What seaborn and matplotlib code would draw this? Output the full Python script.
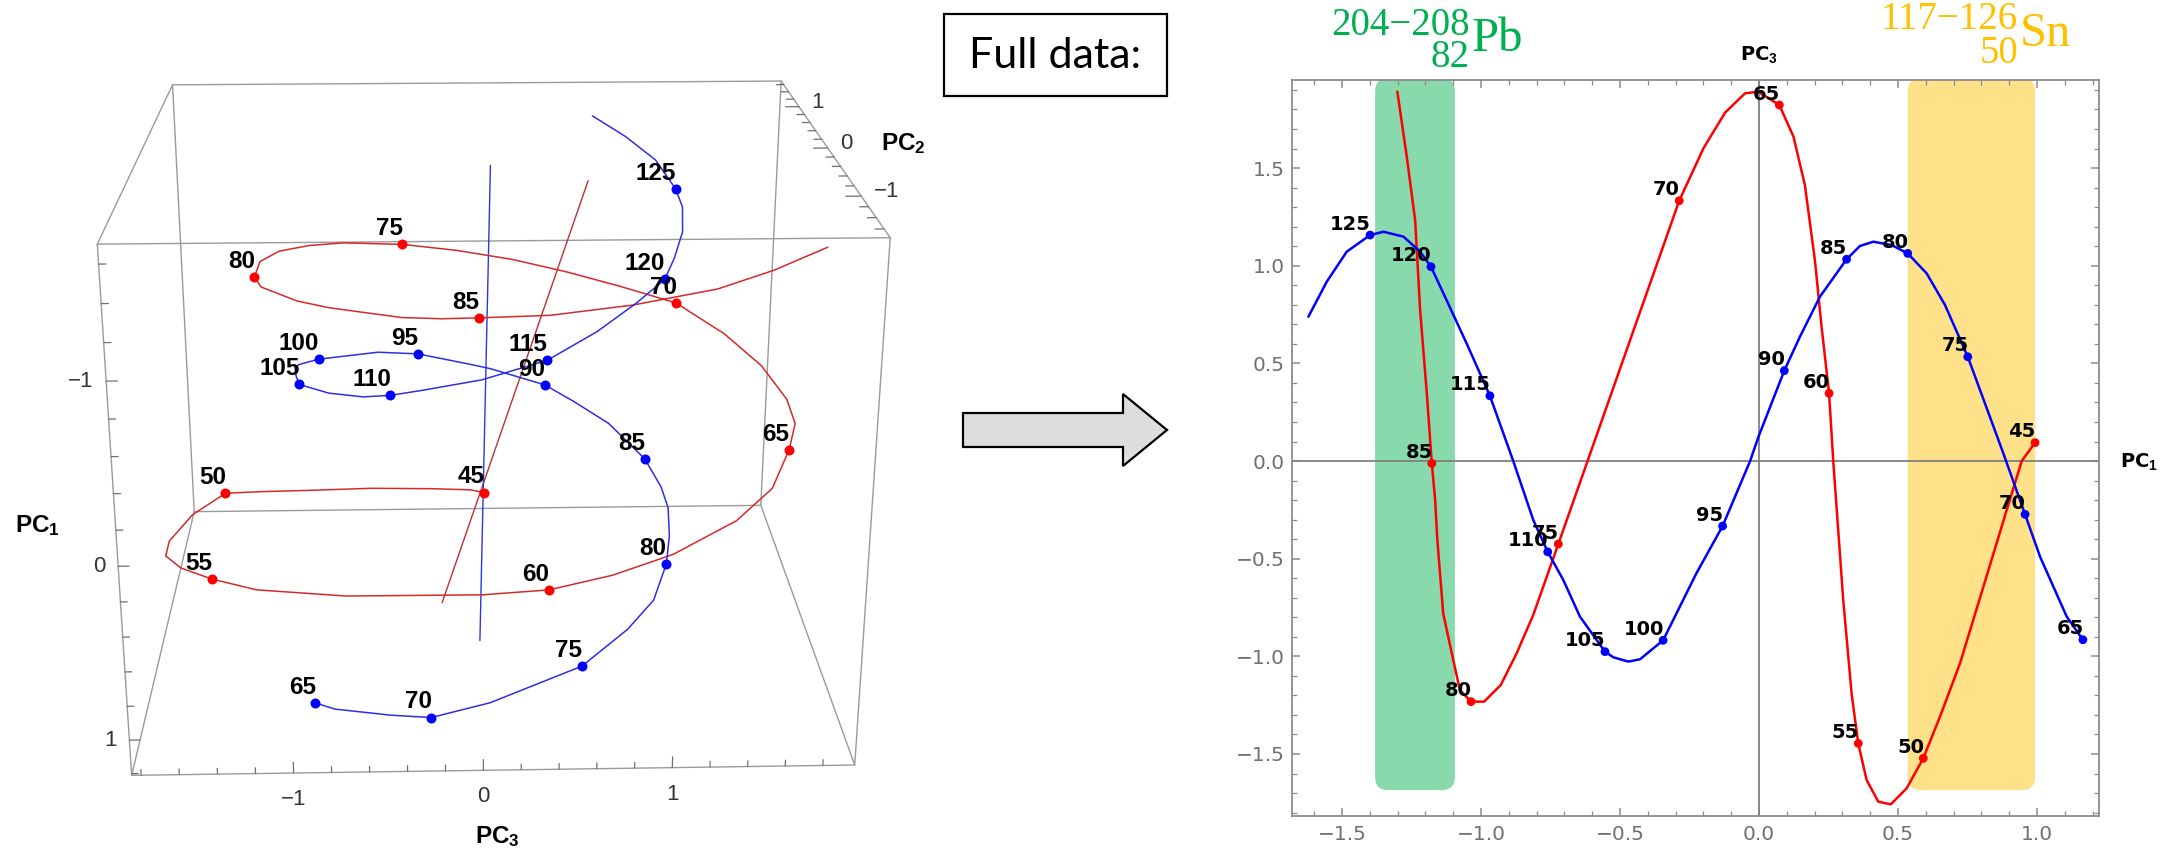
import numpy as np
import pandas as pd
import matplotlib
matplotlib.use("Agg")
import matplotlib.pyplot as plt
import matplotlib.patches as mpatches
import matplotlib.ticker as mticker
from matplotlib.transforms import offset_copy
from mpl_toolkits.mplot3d import proj3d
import seaborn as sns

# ======================= DATA =======================
# Red series (curve vertices), PC1, PC3, PC2 (depth)
red_pc1 = [0.993, 0.945, 0.891, 0.807, 0.723, 0.651, 0.591, 0.531, 0.474, 0.429,
           0.387, 0.357, 0.333, 0.303, 0.267, 0.252, 0.225, 0.201, 0.165, 0.124,
           0.073, -0.003, -0.050, -0.122, -0.200, -0.287, -0.374, -0.461, -0.548, -0.635,
           -0.722, -0.812, -0.872, -0.929, -0.989, -1.036, -1.076, -1.109, -1.136, -1.157,
           -1.165, -1.177, -1.195, -1.219, -1.237, -1.267, -1.301]
red_pc3 = [0.094, 0.000, -0.251, -0.644, -1.036, -1.309, -1.522, -1.676, -1.758, -1.744,
           -1.633, -1.446, -1.190, -0.712, 0.000, 0.347, 0.688, 1.029, 1.413, 1.661,
           1.823, 1.891, 1.883, 1.784, 1.601, 1.333, 0.981, 0.630, 0.278, -0.074,
           -0.425, -0.788, -0.985, -1.147, -1.232, -1.232, -1.173, -0.959, -0.780, -0.405,
           -0.200, -0.012, 0.347, 0.773, 1.234, 1.558, 1.891]
red_pc2 = [1.465, 1.40, 1.30, 1.12, 0.90, 0.72, 0.56, 0.10, -0.40, -0.70,
           -0.95, -1.158, -1.35, -1.50, -1.58, -1.562, -1.45, -1.25, -0.90, -0.55,
           -0.105, 0.12, 0.40, 0.80, 1.18, 1.544, 1.63, 1.68, 1.68, 1.60,
           1.456, 1.20, 0.95, 0.65, 0.25, -0.191, -0.50, -0.85, -1.05, -1.28,
           -1.33, -1.356, -1.38, -1.30, -1.10, -0.88, -0.585]

# Blue series (curve vertices)
blue_pc1 = [1.165, 1.107, 1.011, 0.957, 0.879, 0.751, 0.669, 0.603, 0.535, 0.477,
            0.411, 0.363, 0.315, 0.219, 0.147, 0.091, -0.002, -0.032, -0.131, -0.226,
            -0.345, -0.428, -0.470, -0.524, -0.554, -0.644, -0.704, -0.760, -0.812, -0.884,
            -0.968, -1.052, -1.124, -1.180, -1.219, -1.279, -1.351, -1.399, -1.483, -1.555,
            -1.621]
blue_pc3 = [-0.915, -0.797, -0.490, -0.273, 0.039, 0.534, 0.799, 0.961, 1.063, 1.106,
            1.123, 1.101, 1.033, 0.841, 0.636, 0.463, 0.124, 0.000, -0.333, -0.577,
            -0.918, -1.015, -1.027, -1.005, -0.976, -0.797, -0.609, -0.465, -0.302, 0.000,
            0.334, 0.603, 0.824, 0.995, 1.072, 1.149, 1.174, 1.157, 1.072, 0.918,
            0.739]
blue_pc2 = [-1.07, -1.25, -1.50, -1.63, -1.62, -1.464, -1.20, -0.98, -0.658, -0.40,
            -0.15, 0.05, 0.374, 0.72, 0.92, 1.07, 1.12, 1.12, 1.05, 0.82,
            0.37, 0.05, -0.12, -0.40, -0.62, -1.00, -1.22, -1.35, -1.42, -1.47,
            -1.42, -1.22, -0.98, -0.753, -0.50, -0.20, 0.05, 0.263, 0.60, 0.88,
            1.13]

# Labelled points
red_labels = [45, 50, 55, 60, 65, 70, 75, 80, 85]
red_lab_pc1 = [0.993, 0.591, 0.357, 0.252, 0.073, -0.287, -0.722, -1.036, -1.177]
red_lab_pc3 = [0.094, -1.522, -1.446, 0.347, 1.823, 1.333, -0.425, -1.232, -0.012]
red_lab_pc2 = [1.465, 0.560, -1.158, -1.562, -0.105, 1.544, 1.456, -0.191, -1.356]

blue_labels = [65, 70, 75, 80, 85, 90, 95, 100, 105, 110, 115, 120, 125]
blue_lab_pc1 = [1.165, 0.957, 0.751, 0.535, 0.315, 0.091, -0.131, -0.345, -0.554,
                -0.760, -0.968, -1.180, -1.399]
blue_lab_pc3 = [-0.915, -0.273, 0.534, 1.063, 1.033, 0.463, -0.333, -0.918, -0.976,
                -0.465, 0.334, 0.995, 1.157]
blue_lab_pc2 = [-1.070, -1.630, -1.464, -0.658, 0.374, 1.070, 1.050, 0.370, -0.620,
                -1.350, -1.420, -0.753, 0.263]

# Helix axis lines in the 3D panel (two end points each)
blue_axis_pc1 = [-1.68, 1.21]
blue_axis_pc3 = [0.08, 0.02]
blue_axis_pc2 = [-0.25, -0.25]
red_axis_pc1 = [-1.50, 1.12]
red_axis_pc3 = [0.64, -0.20]
red_axis_pc2 = [0.08, 0.08]

# Shaded bands in the 2D panel
band_x0 = [-1.381, 0.535]
band_x1 = [-1.094, 0.993]
band_y0 = [-1.685, -1.685]
band_y1 = [1.960, 1.960]
band_colors = ["#88D9AC", "#FFE18A"]

# Axis ranges / ticks
xlim2 = (-1.681, 1.223)
ylim2 = (-1.816, 1.951)
pc3_lim = (-1.85, 1.97)
pc2_lim = (-1.75, 1.70)
pc1_lim = (1.21, -1.70)      # PC1 increases downwards in the 3D panel
major3d = [-1, 0, 1]
major3d_labels = ["\u22121", "0", "1"]

# Title texts
pb_scripts, pb_sym = "204\u2212208\n82", "Pb"
sn_scripts, sn_sym = "117\u2212126\n50", "Sn"
box_text = "Full data:"

GREEN = "#00B050"
GOLD = "#FFC000"
RED = "#FF0000"
BLUE = "#0000FF"

# ======================= STYLE =======================
sns.set_theme(style="white")
plt.rcParams.update({
    "font.family": ["DejaVu Sans"],
    "mathtext.fontset": "custom",
    "mathtext.rm": "Liberation Sans",
    "mathtext.bf": "Liberation Sans:bold",
    "mathtext.it": "Liberation Sans:italic",
    "axes.unicode_minus": True,
})

W, H = 2184, 849
fig = plt.figure(figsize=(W / 100, H / 100), dpi=100)
fig.patch.set_facecolor("white")


def fx(px):
    return px / W


def fy(py_top):
    return 1 - py_top / H


# ======================= LEFT: 3D panel =======================
ZOOM = 1.15
side = 993.5 / ZOOM
cx, cy = 485.6, H - 397.0
left = cx - 0.5135 * side
bottom = cy - 0.5135 * side
ax3 = fig.add_axes([left / W, bottom / H, side / W, side / H], projection="3d")
ax3.patch.set_visible(False)


def lim3d(setter, a, b):
    try:
        setter(a, b, view_margin=0)
    except TypeError:
        setter(a, b)


lim3d(ax3.set_xlim, *pc3_lim)
lim3d(ax3.set_ylim, *pc2_lim)
lim3d(ax3.set_zlim, *pc1_lim)
ax3.set_box_aspect((abs(pc3_lim[1] - pc3_lim[0]), abs(pc2_lim[1] - pc2_lim[0]),
                    abs(pc1_lim[1] - pc1_lim[0])), zoom=ZOOM)
ax3.set_proj_type("persp", focal_length=0.4116 * ZOOM)
ax3.view_init(elev=20.7, azim=-91.6, roll=0)
ax3.set_axis_off()
ax3.computed_zorder = False

edge_kw = dict(color="#9A9A9A", lw=1.0, clip_on=False, zorder=1)
for yv in pc2_lim:
    for zv in pc1_lim:
        ax3.plot(pc3_lim, [yv, yv], [zv, zv], **edge_kw)
for xv in pc3_lim:
    for zv in pc1_lim:
        ax3.plot([xv, xv], pc2_lim, [zv, zv], **edge_kw)
for xv in pc3_lim:
    for yv in pc2_lim:
        ax3.plot([xv, xv], [yv, yv], pc1_lim, **edge_kw)

# tick marks
tick_kw = dict(color="#707070", lw=0.9, clip_on=False, zorder=1)
minor3 = [v for v in np.round(np.arange(-1.8, 1.81, 0.2), 1) if v not in major3d]
minor1 = [v for v in np.round(np.arange(-1.6, 1.21, 0.2), 1) if v not in major3d]
minor2 = [v for v in np.round(np.arange(-1.6, 1.61, 0.2), 1) if v not in major3d]
for vals, L in ((major3d, 0.065), (minor3, 0.035)):
    for t in vals:
        ax3.plot([t, t], [pc2_lim[0]] * 2, [pc1_lim[0], pc1_lim[0] - L], **tick_kw)
for vals, L in ((major3d, 0.055), (minor1, 0.035)):
    for t in vals:
        ax3.plot([pc3_lim[0], pc3_lim[0] + L], [pc2_lim[0]] * 2, [t, t], **tick_kw)
for vals, L in ((major3d, 0.08), (minor2, 0.045)):
    for t in vals:
        ax3.plot([pc3_lim[1], pc3_lim[1] - L], [t, t], [pc1_lim[1]] * 2, **tick_kw)

# curves, axes of helices, points
ax3.plot(red_axis_pc3, red_axis_pc2, red_axis_pc1, color="#B83232", lw=1.0, clip_on=False, zorder=2)
ax3.plot(blue_axis_pc3, blue_axis_pc2, blue_axis_pc1, color="#2A3AD8", lw=1.0, clip_on=False, zorder=2)
ax3.plot(red_pc3, red_pc2, red_pc1, color="#D42A2A", lw=1.1, clip_on=False, zorder=3)
ax3.plot(blue_pc3, blue_pc2, blue_pc1, color="#2F2FE0", lw=1.1, clip_on=False, zorder=3)
ax3.plot(red_lab_pc3, red_lab_pc2, red_lab_pc1, "o", color=RED, ms=7.2, mec="none",
         clip_on=False, zorder=4)
ax3.plot(blue_lab_pc3, blue_lab_pc2, blue_lab_pc1, "o", color=BLUE, ms=7.2, mec="none",
         clip_on=False, zorder=4)

M = ax3.get_proj()


def p2d(x, y, z):
    xs, ys, _ = proj3d.proj_transform(np.asarray(x, float), np.asarray(y, float),
                                      np.asarray(z, float), M)
    return xs, ys


lab_tr = offset_copy(ax3.transData, fig=fig, x=0.3, y=3.0, units="points")
for labs, a, b, c in ((red_labels, red_lab_pc3, red_lab_pc2, red_lab_pc1),
                      (blue_labels, blue_lab_pc3, blue_lab_pc2, blue_lab_pc1)):
    xs, ys = p2d(a, b, c)
    for lab, x2, y2 in zip(labs, xs, ys):
        ax3.text2D(x2, y2, str(lab), transform=lab_tr, ha="right", va="bottom",
                   fontsize=17.5, fontweight="bold", family="Liberation Sans",
                   color="black", zorder=6)

tick_txt = dict(fontsize=16, family="Liberation Sans", color="#333333", zorder=6)
xs, ys = p2d(major3d, [pc2_lim[0]] * 3, [pc1_lim[0]] * 3)
tr = offset_copy(ax3.transData, fig=fig, x=0, y=-19, units="points")
for s, x2, y2 in zip(major3d_labels, xs, ys):
    ax3.text2D(x2, y2, s, transform=tr, ha="center", va="center", **tick_txt)
xs, ys = p2d([pc3_lim[0]] * 3, [pc2_lim[0]] * 3, major3d)
tr = offset_copy(ax3.transData, fig=fig, x=-9, y=0, units="points")
for s, x2, y2 in zip(major3d_labels, xs, ys):
    ax3.text2D(x2, y2, s, transform=tr, ha="right", va="center", **tick_txt)
xs, ys = p2d([pc3_lim[1]] * 3, major3d, [pc1_lim[1]] * 3)
tr = offset_copy(ax3.transData, fig=fig, x=9, y=3, units="points")
for s, x2, y2 in zip(major3d_labels, xs, ys):
    ax3.text2D(x2, y2, s, transform=tr, ha="left", va="center", **tick_txt)

lab3 = dict(fontsize=17.5, fontweight="bold", family="Liberation Sans", color="black")
fig.text(fx(497), fy(837), r"PC$_\mathbf{3}$", ha="center", va="center", **lab3)
fig.text(fx(37.5), fy(526), r"PC$_\mathbf{1}$", ha="center", va="center", **lab3)
fig.text(fx(903), fy(144), r"PC$_\mathbf{2}$", ha="center", va="center", **lab3)

# ======================= MIDDLE: box + arrow =======================
fig.add_artist(mpatches.Rectangle((fx(944), fy(96)), fx(223), 82 / H, transform=fig.transFigure,
                                  fill=False, ec="black", lw=1.6))
fig.text(fx(1055.5), fy(56), box_text, ha="center", va="center", fontsize=31,
         family="Lato", color="black")
fig.add_artist(mpatches.FancyArrow(9.63, (H - 430) / 100, 2.04, 0, width=0.34,
                                   head_width=0.72, head_length=0.44,
                                   length_includes_head=True, fc="#DDDDDD", ec="black",
                                   lw=1.6, transform=fig.dpi_scale_trans))

# ======================= RIGHT: 2D projection =======================
ax2 = fig.add_axes([fx(1291.7), (H - 815.7) / H, (2099 - 1291.7) / W, (815.7 - 80) / H])
ax2.set_xlim(*xlim2)
ax2.set_ylim(*ylim2)

for x0, x1, y0, y1, col in zip(band_x0, band_x1, band_y0, band_y1, band_colors):
    ax2.add_patch(mpatches.FancyBboxPatch((x0, y0), x1 - x0, y1 - y0,
                                          boxstyle="round,pad=0,rounding_size=0.047",
                                          mutation_aspect=1.4234, fc=col, ec="none",
                                          zorder=0))
ax2.axhline(0, color="#808080", lw=1.3, zorder=1)
ax2.axvline(0, color="#808080", lw=1.3, zorder=1)

df_red = pd.DataFrame({"PC1": red_pc1, "PC3": red_pc3})
df_blue = pd.DataFrame({"PC1": blue_pc1, "PC3": blue_pc3})
sns.lineplot(data=df_red, x="PC1", y="PC3", sort=False, estimator=None, color=RED,
             lw=1.8, ax=ax2, zorder=2)
sns.lineplot(data=df_blue, x="PC1", y="PC3", sort=False, estimator=None, color=BLUE,
             lw=1.8, ax=ax2, zorder=2)
sns.scatterplot(x=red_lab_pc1, y=red_lab_pc3, color=RED, s=40, edgecolor="none",
                linewidth=0, ax=ax2, zorder=4)
sns.scatterplot(x=blue_lab_pc1, y=blue_lab_pc3, color=BLUE, s=40, edgecolor="none",
                linewidth=0, ax=ax2, zorder=4)
for labs, xs_, ys_ in ((red_labels, red_lab_pc1, red_lab_pc3),
                       (blue_labels, blue_lab_pc1, blue_lab_pc3)):
    for lab, x_, y_ in zip(labs, xs_, ys_):
        ax2.annotate(str(lab), (x_, y_), xytext=(0.5, 1.0), textcoords="offset points",
                     ha="right", va="bottom", fontsize=14, fontweight="bold",
                     family="DejaVu Sans", color="black", zorder=5)

ax2.set_xlabel("")
ax2.set_ylabel("")
ax2.grid(False)
for sp in ax2.spines.values():
    sp.set_visible(True)
    sp.set_color("#8C8C8C")
    sp.set_linewidth(1.3)
ax2.xaxis.set_major_locator(mticker.MultipleLocator(0.5))
ax2.yaxis.set_major_locator(mticker.MultipleLocator(0.5))
ax2.xaxis.set_minor_locator(mticker.MultipleLocator(0.1))
ax2.yaxis.set_minor_locator(mticker.MultipleLocator(0.1))


def fmt(v, pos):
    s = f"{v:.1f}"
    if s == "-0.0":
        s = "0.0"
    return s.replace("-", "\u2212")


ax2.xaxis.set_major_formatter(mticker.FuncFormatter(fmt))
ax2.yaxis.set_major_formatter(mticker.FuncFormatter(fmt))
ax2.tick_params(which="both", direction="in", top=True, right=True, bottom=True, left=True,
                color="#8C8C8C")
ax2.tick_params(which="major", length=6, width=1.1, labelsize=14.5, labelcolor="#707070")
ax2.tick_params(which="minor", length=3.5, width=0.9)
ax2.tick_params(axis="x", which="major", pad=7)
ax2.tick_params(axis="y", which="major", pad=5)

ax2.annotate(r"PC$_\mathbf{3}$", xy=(0, 1), xycoords=("data", "axes fraction"),
             xytext=(0, 11), textcoords="offset points", ha="center", va="bottom",
             fontsize=14, fontweight="bold", family="DejaVu Sans", color="black")
ax2.annotate(r"PC$_\mathbf{1}$", xy=(1, 0), xycoords=("axes fraction", "data"),
             xytext=(15, 0), textcoords="offset points", ha="left", va="center",
             fontsize=14, fontweight="bold", family="DejaVu Sans", color="black")

# isotope titles (mass-number range above, proton number below, right-aligned)
serif = "Liberation Serif"
fig.text(fx(1470), fy(7), pb_scripts, ha="right", va="top", multialignment="right",
         linespacing=0.81, color=GREEN, fontsize=28, family=serif)
fig.text(fx(1472), fy(51), pb_sym, ha="left", va="baseline", color=GREEN, fontsize=35,
         family=serif)
fig.text(fx(2018), fy(1), sn_scripts, ha="right", va="top", multialignment="right",
         linespacing=0.89, color=GOLD, fontsize=28, family=serif)
fig.text(fx(2020), fy(46), sn_sym, ha="left", va="baseline", color=GOLD, fontsize=35,
         family=serif)

fig.savefig("out.png", dpi=100)
